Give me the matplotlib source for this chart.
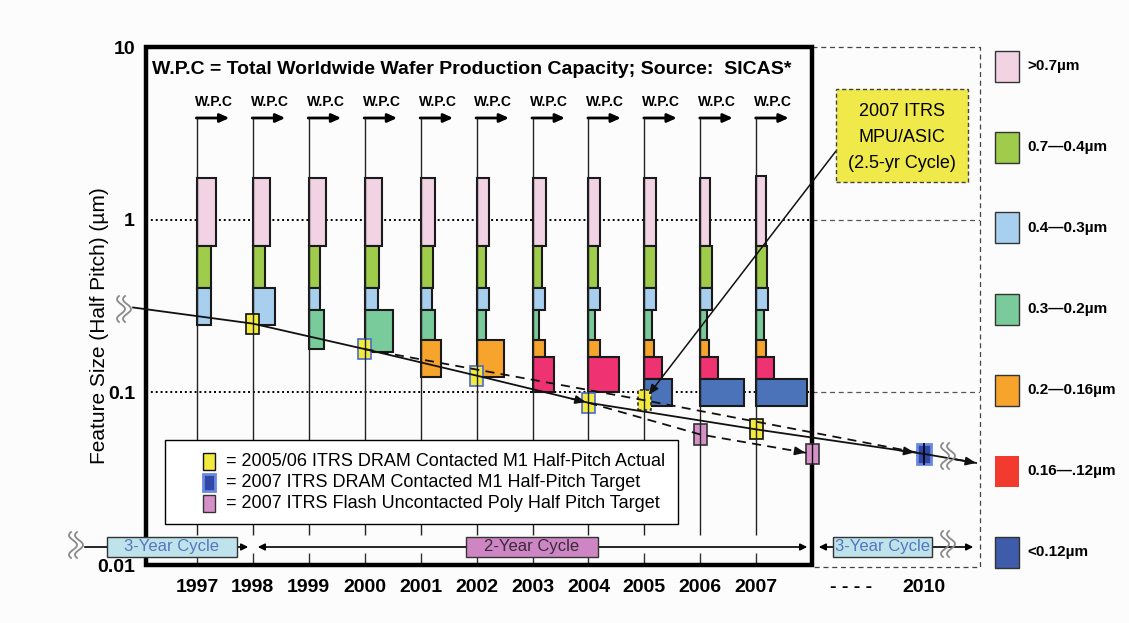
import numpy as np
import matplotlib
matplotlib.use("Agg")
import matplotlib.pyplot as plt
from matplotlib.patches import Rectangle, FancyArrowPatch
from matplotlib.lines import Line2D
from matplotlib.ticker import NullLocator

plt.rcParams['font.family'] = ['Liberation Sans', 'DejaVu Sans']

# ---- data ----
years = list(range(1997, 2008))
size_classes = ['>0.7µm', '0.7—0.4µm', '0.4—0.3µm', '0.3—0.2µm',
                '0.2—0.16µm', '0.16—.12µm', '<0.12µm']
class_lower = [0.7, 0.4, 0.3, 0.2, 0.16, 0.12]      # lower edge of each class (µm)
top_pink = [1.75, 1.75, 1.75, 1.75, 1.75, 1.75, 1.75, 1.75, 1.75, 1.75, 1.8]
lead_bottom = [0.245, 0.245, 0.178, 0.172, 0.123, 0.123, 0.100, 0.100, 0.083, 0.083, 0.083]
# W.P.C share per size class (bar width, in years) for each year
wpc_share = [
    [0.345, 0.26, 0.26],
    [0.31, 0.21, 0.40],
    [0.30, 0.20, 0.20, 0.27],
    [0.31, 0.26, 0.23, 0.51],
    [0.25, 0.22, 0.20, 0.25, 0.37],
    [0.22, 0.16, 0.22, 0.16, 0.49],
    [0.24, 0.17, 0.22, 0.12, 0.22, 0.38],
    [0.20, 0.17, 0.21, 0.11, 0.21, 0.55],
    [0.20, 0.21, 0.21, 0.13, 0.17, 0.32, 0.49],
    [0.18, 0.21, 0.21, 0.125, 0.15, 0.31, 0.78],
    [0.18, 0.19, 0.21, 0.13, 0.17, 0.31, 0.91],
]

dram_trend_years = [1995.86, 1998, 2000, 2002, 2004, 2007, 2010, 2010.93]
dram_trend_vals = [0.31, 0.25, 0.178, 0.125, 0.087, 0.061, 0.044, 0.039]
dram_actual_years = [1998, 2000, 2002, 2004, 2007]
dram_actual_vals = [0.25, 0.178, 0.125, 0.087, 0.061]
dram_target_years = [2010]
dram_target_vals = [0.044]
mpu_years = [2000, 2005, 2010]
mpu_vals = [0.178, 0.090, 0.044]
flash_years = [2004, 2006, 2008]
flash_vals = [0.087, 0.057, 0.044]

legend_labels = ['= 2005/06 ITRS DRAM Contacted M1 Half-Pitch Actual',
                 '= 2007 ITRS DRAM Contacted M1 Half-Pitch Target',
                 '= 2007 ITRS Flash Uncontacted Poly Half Pitch Target']

# ---- styles ----
bar_colors = ['#f2d3e4', '#9fcc4a', '#a9cfee', '#7acb9b', '#f6a42c', '#ee3272', '#4b73ba']
swatch_colors = ['#f2d3e4', '#9fcc4a', '#a9cfee', '#7acb9b', '#f6a42c', '#f23b2e', '#3f5caa']
yellow = '#f2ea3c'
pink_sq = '#d690c8'
blue_sq = '#3147a8'
actual_edges = ['#111111', '#4a6ad0', '#4a6ad0', '#4a6ad0', '#111111']

W, H = 1129, 623


def P(x, y):
    return x / W, 1 - y / H


fig = plt.figure(figsize=(W / 100, H / 100), dpi=100)
fig.patch.set_facecolor('#fcfcfc')
x_left = 1996.09
ax = fig.add_axes([146 / W, (H - 565) / H, 834 / W, 518 / H])
ax.set_facecolor('none')
ax.set_yscale('log')
ax.set_xlim(x_left, 2011.0)
ax.set_ylim(0.01, 10)
for s in ax.spines.values():
    s.set_visible(False)

# ticks
ax.set_xticks(years)
ax.set_xticklabels([str(y) for y in years], fontweight='bold', fontsize=14)
ax.set_xticks([2008.7, 2010], minor=True)
ax.set_xticklabels(['- - - -', '2010'], minor=True, fontweight='bold', fontsize=14)
ax.tick_params(axis='x', which='major', direction='in', length=9, width=1, color='#333', pad=10)
ax.tick_params(axis='x', which='minor', length=0, pad=10)
ax.set_yticks([0.01, 0.1, 1, 10])
ax.set_yticklabels(['0.01', '0.1', '1', '10'], fontweight='bold', fontsize=14)
ax.yaxis.set_minor_locator(NullLocator())
ax.tick_params(axis='y', length=0, pad=8)

# reference lines at 1 and 0.1
ax.hlines([1, 0.1], x_left, 2008, linestyles=(0, (1, 1.5)), color='black', lw=1.4, zorder=2)
ax.hlines([1, 0.1], 2008, 2011, linestyles=(0, (4, 3)), color='#555', lw=0.9, zorder=2)

# W.P.C bars
for i, yr in enumerate(years):
    shares = wpc_share[i]
    n = len(shares)
    for k, w in enumerate(shares):
        top = top_pink[i] if k == 0 else class_lower[k - 1]
        bottom = lead_bottom[i] if k == n - 1 else class_lower[k]
        ax.bar(yr, top - bottom, bottom=bottom, width=w, align='edge',
               color=bar_colors[k], edgecolor='#1a1a1a', lw=1.5, zorder=3)

# year lines with W.P.C arrows
ax.vlines(years, 0.0149, 3.88, color='#222', lw=1, zorder=7)
for yr in years:
    ax.annotate('', xy=(yr + 0.58, 3.88), xytext=(yr - 0.01, 3.88),
                arrowprops=dict(arrowstyle='-|>,head_length=0.55,head_width=0.25',
                                lw=2, color='black', shrinkA=0, shrinkB=0),
                annotation_clip=False)
    ax.text(yr + 0.3, 4.8, 'W.P.C', ha='center', va='center', fontsize=10,
            fontweight='bold', family=['Liberation Sans Narrow', 'Liberation Sans'])

# frames
ax.add_patch(Rectangle((x_left, 0.01), 2008 - x_left, 10 - 0.01, fill=False,
                       lw=3.2, edgecolor='black', zorder=5, clip_on=False))
ax.plot([2008, 2011, 2011, 2008], [10, 10, 0.0097, 0.0097], ls=(0, (4, 3)),
        color='#444', lw=0.9, clip_on=False, zorder=2)


def box(x, v, fc, ec, lw=1.2, ls='-', w=0.233, f=1.143, z=6):
    ax.add_patch(Rectangle((x - w / 2, v / f), w, v * f - v / f, facecolor=fc,
                           edgecolor=ec, lw=lw, ls=ls, zorder=z, clip_on=False))


def head(x0, v0, x1, v1, shrink=0, frac=0.85):
    xs = x0 + frac * (x1 - x0)
    vs = v0 * (v1 / v0) ** frac
    ax.annotate('', xy=(x1, v1), xytext=(xs, vs),
                arrowprops=dict(arrowstyle='-|>,head_length=0.6,head_width=0.25',
                                color='#111', lw=1.3, shrinkA=0, shrinkB=shrink),
                annotation_clip=False, zorder=9)


# squares
for x, v, ec in zip(dram_actual_years, dram_actual_vals, actual_edges):
    box(x, v, yellow, ec)
box(mpu_years[1], mpu_vals[1], yellow, '#333', ls=(0, (2, 1.5)))
for x, v in zip(flash_years[1:], flash_vals[1:]):
    box(x, v, pink_sq, '#333')
ax.vlines(flash_years[-1], flash_vals[-1] / 1.15, flash_vals[-1] * 1.15, color='black', lw=1, zorder=7)
for x, v in zip(dram_target_years, dram_target_vals):
    box(x, v, blue_sq, '#6a88e0', lw=2, w=0.26)
    ax.vlines(x, v / 1.16, v * 1.16, color='black', lw=1.2, zorder=7)

# trend lines
ax.plot(dram_trend_years, dram_trend_vals, color='#111', lw=1.3, zorder=8, clip_on=False)
ax.plot(mpu_years, mpu_vals, color='#111', lw=1.3, ls=(0, (5, 3.5)), zorder=8, clip_on=False)
ax.plot(flash_years, flash_vals, color='#111', lw=1.3, ls=(0, (5, 3.5)), zorder=8, clip_on=False)
head(dram_trend_years[3], dram_trend_vals[3], dram_trend_years[4], dram_trend_vals[4], shrink=2)
head(dram_trend_years[5], dram_trend_vals[5], dram_trend_years[6], dram_trend_vals[6], shrink=7)
head(dram_trend_years[6], dram_trend_vals[6], dram_trend_years[7], dram_trend_vals[7], frac=0.6)
head(flash_years[1], flash_vals[1], flash_years[2], flash_vals[2], shrink=5)

# MPU/ASIC call-out
ax.annotate('', xy=(mpu_years[1], mpu_vals[1]), xytext=P(836, 151), textcoords='figure fraction',
            arrowprops=dict(arrowstyle='-|>,head_length=0.6,head_width=0.25', color='#111',
                            lw=1.1, shrinkA=0, shrinkB=5),
            annotation_clip=False, zorder=9)
fig.add_artist(Rectangle(P(836, 182), 132 / W, 93 / H, transform=fig.transFigure,
                         facecolor='#f0e94a', edgecolor='#444', ls=(0, (3, 2)), lw=1))
for txt, yy in zip(['2007 ITRS', 'MPU/ASIC', '(2.5-yr Cycle)'], [112, 138, 164]):
    fig.text(*P(902, yy), txt, ha='center', va='center', fontsize=13)

# titles
fig.text(*P(152, 70), 'W.P.C = Total Worldwide Wafer Production Capacity; Source:  SICAS*',
         ha='left', va='center', fontsize=14, fontweight='bold')
fig.text(*P(100, 326), 'Feature Size (Half Pitch) (µm)', rotation=90, ha='center',
         va='center', fontsize=15)

# size-class legend on the right
for i, (lab, c) in enumerate(zip(size_classes, swatch_colors)):
    yc = 66 + 81 * i
    ec = 'none' if i == 5 else '#333'
    fig.add_artist(Rectangle(P(995, yc + 15.5), 24 / W, 31 / H, transform=fig.transFigure,
                             facecolor=c, edgecolor=ec, lw=1))
    fig.text(*P(1027, yc), lab, ha='left', va='center', fontsize=11, fontweight='bold')

# marker legend box
fig.add_artist(Rectangle(P(165, 524), 513 / W, 84 / H, transform=fig.transFigure,
                         facecolor='white', edgecolor='black', lw=1))
leg_style = [(yellow, '#111', 1), (blue_sq, '#6a88e0', 2), (pink_sq, '#333', 1)]
for i, (lab, (fc, ec, lw)) in enumerate(zip(legend_labels, leg_style)):
    yc = 461.5 + 21 * i
    fig.add_artist(Rectangle(P(203, yc + 8.5), 12 / W, 17 / H, transform=fig.transFigure,
                             facecolor=fc, edgecolor=ec, lw=lw))
    fig.text(*P(226, yc), lab, ha='left', va='center', fontsize=13)


# cycle arrows along the bottom
def farrow(x0, x1, style):
    fig.add_artist(FancyArrowPatch(P(x0, 547), P(x1, 547), arrowstyle=style,
                                   mutation_scale=10, lw=1.2, color='black',
                                   transform=fig.transFigure))


farrow(82, 251, '-|>')
farrow(255, 810, '<|-|>')
farrow(816, 976, '<|-|>')
for x0, x1, fc, tc, lab in [(107, 237, '#bfe3ea', '#5577c0', '3-Year Cycle'),
                            (466, 598, '#cd86c3', '#3a2a3a', '2-Year Cycle'),
                            (833, 932, '#bfe3ea', '#5577c0', '3-Year Cycle')]:
    fig.add_artist(Rectangle(P(x0, 557), (x1 - x0) / W, 20 / H, transform=fig.transFigure,
                             facecolor=fc, edgecolor='#333', lw=1))
    fig.text(*P((x0 + x1) / 2, 547), lab, ha='center', va='center', fontsize=12, color=tc)


# axis-break marks
def squiggle(x0, yc, h=13, w=8):
    t = np.linspace(-1, 1, 60)
    xs = w * (0.5 + 0.5 * np.cos(np.pi * t / 0.75))
    ys = yc + h * t
    for dx in (0, 6):
        fig.add_artist(Line2D((x0 + dx + xs) / W, 1 - ys / H, transform=fig.transFigure,
                              color='#8a8a8a', lw=1.3))


squiggle(117, 309)
squiggle(69, 545)
squiggle(941, 456)
squiggle(941, 544)

fig.savefig('out.png', dpi=100, facecolor=fig.get_facecolor())
